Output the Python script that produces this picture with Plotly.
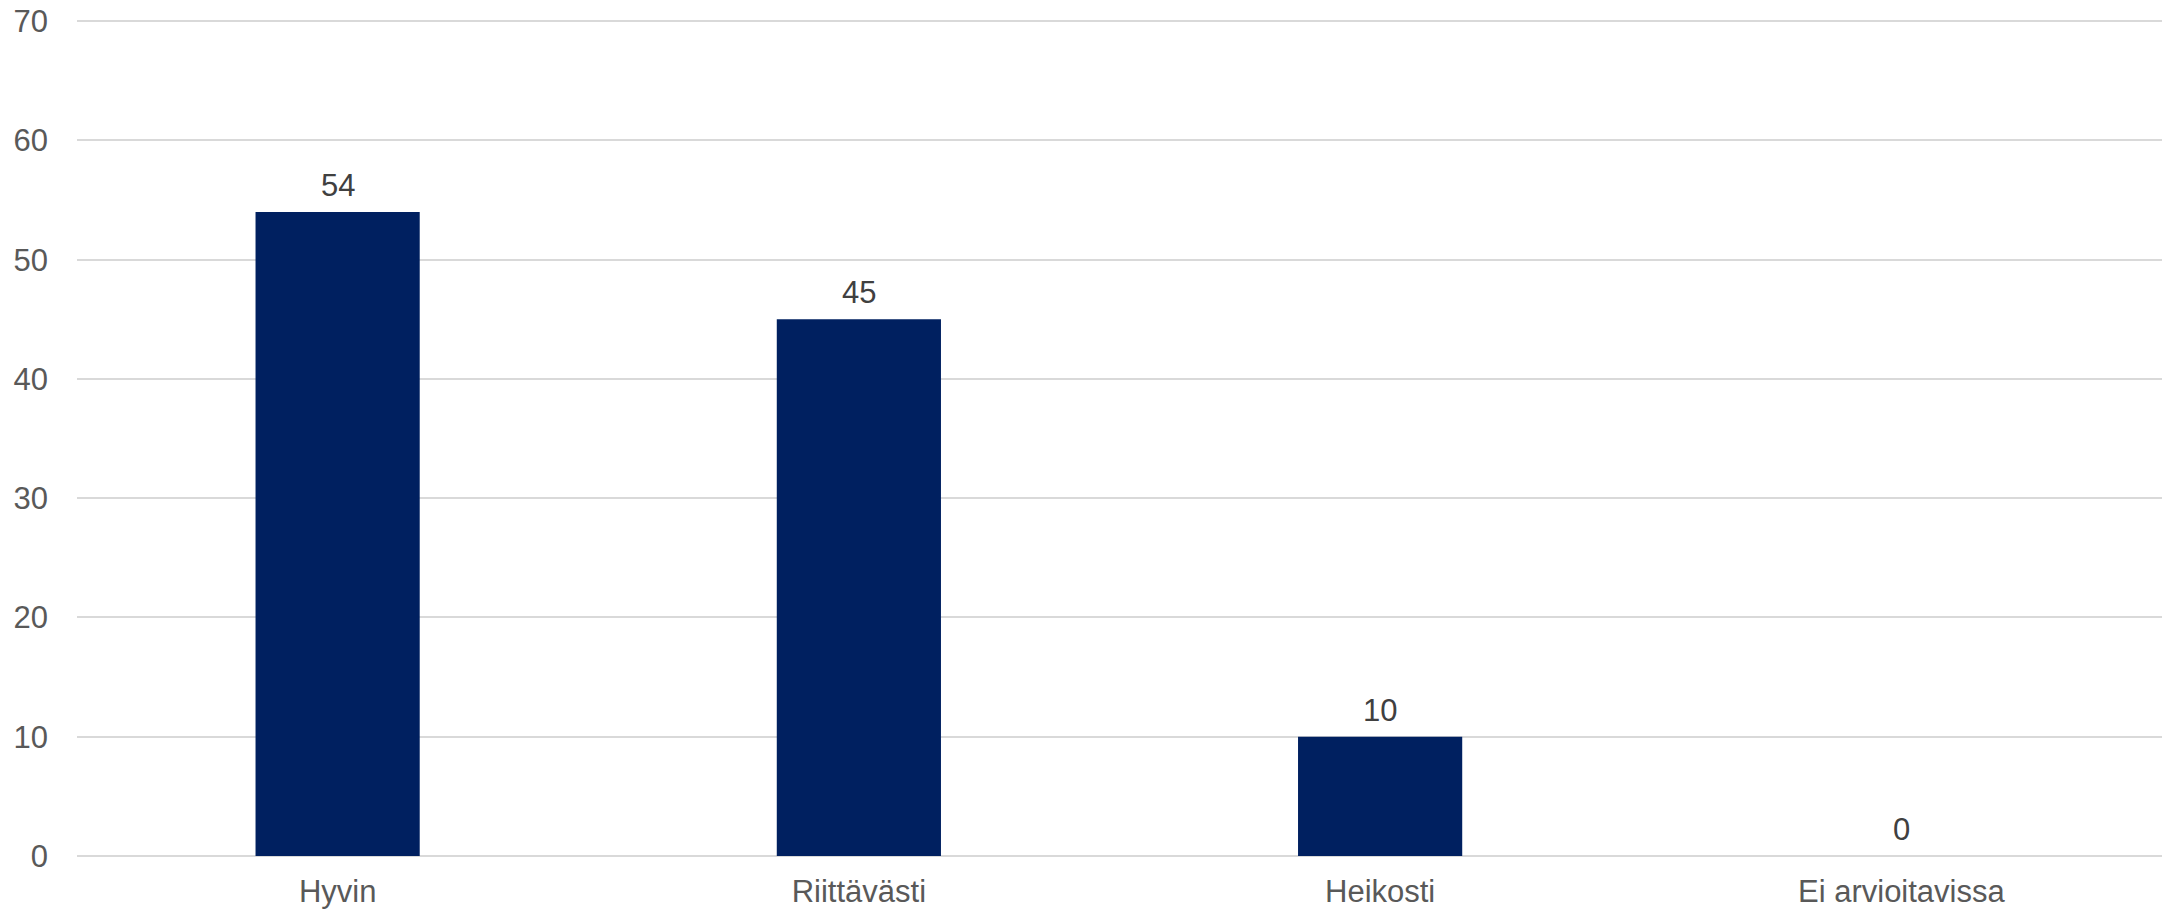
import plotly.graph_objects as go

categories = ["Hyvin", "Riittävästi", "Heikosti", "Ei arvioitavissa"]
values = [54, 45, 10, 0]
y_ticks = [0, 10, 20, 30, 40, 50, 60, 70]

FONT = "Liberation Sans, Arial, sans-serif"

fig = go.Figure()
fig.add_trace(go.Bar(
    x=categories,
    y=values,
    marker=dict(color="#002060", line=dict(width=0)),
    width=0.315,
    hoverinfo="x+y",
))

for c, v in zip(categories, values):
    fig.add_annotation(
        x=c, y=v, xref="x", yref="y",
        text=str(v), showarrow=False,
        yanchor="bottom", yshift=7,
        font=dict(family=FONT, size=31, color="#404040"),
    )

fig.update_layout(
    width=2169,
    height=911,
    margin=dict(l=77, r=7, t=20, b=55, autoexpand=False),
    paper_bgcolor="white",
    plot_bgcolor="white",
    showlegend=False,
    font=dict(family=FONT, color="#595959", size=31),
    xaxis=dict(
        automargin=False,
        showgrid=False,
        showline=False,
        ticks="",
        ticklabelstandoff=14,
        ticklabeloverflow="allow",
        tickfont=dict(size=31, color="#595959"),
    ),
    yaxis=dict(
        automargin=False,
        range=[0, 70.1],
        tickvals=y_ticks,
        showgrid=True,
        gridcolor="#d9d9d9",
        gridwidth=2,
        zeroline=True,
        zerolinecolor="#d9d9d9",
        zerolinewidth=2,
        showline=False,
        ticks="",
        ticklabelstandoff=28,
        ticklabeloverflow="allow",
        tickfont=dict(size=31, color="#595959"),
    ),
)

fig.write_html(
    "out.html",
    config={"displayModeBar": False},
    post_script="document.body.style.margin='0';document.body.style.overflow='hidden';",
)
